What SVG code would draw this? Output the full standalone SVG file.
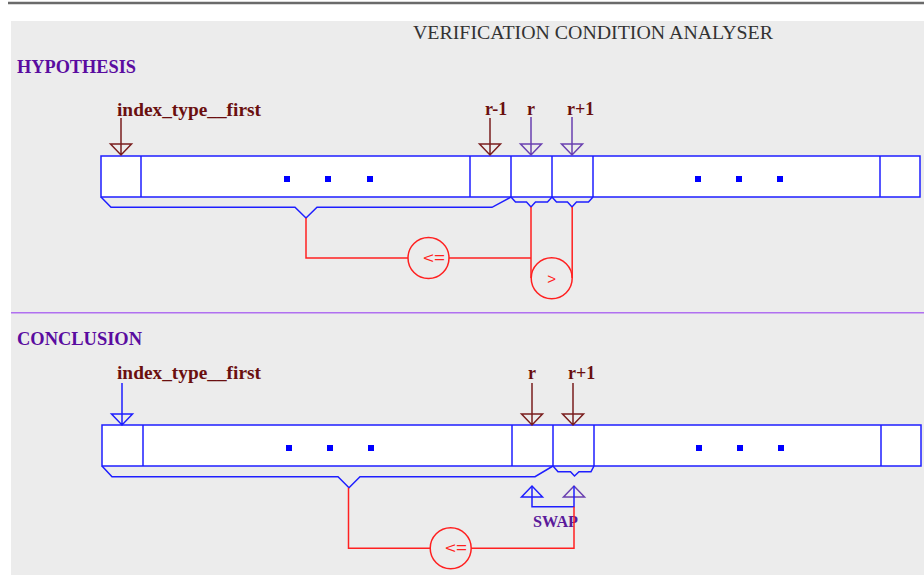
<svg xmlns="http://www.w3.org/2000/svg" width="924" height="583" viewBox="0 0 924 583">
<style>
.lbl{font-family:"Liberation Serif","Times New Roman",serif;font-weight:bold}
.head{fill:#5a0ca0;font-size:19px}
.idx{fill:#6a0f0f;font-size:18px}
.cell{fill:#fff;stroke:#1e1eff;stroke-width:1.5}
.div{stroke:#1e1eff;stroke-width:1.5}
.dot{fill:#0000ff}
.br{fill:none;stroke:#1e1eff;stroke-width:1.5}
.red{fill:none;stroke:#ff2020;stroke-width:1.5}
.op{font-family:"Liberation Sans",Arial,sans-serif;font-size:15px;fill:#ff2020;text-anchor:middle}
.ar-dr{stroke:#7a1e1e;stroke-width:1.5;fill:none}
.ar-pu{stroke:#6a40b0;stroke-width:1.5;fill:none}
.ar-bl{stroke:#1e1eff;stroke-width:1.5;fill:none}
</style>
<rect x="0" y="0" width="924" height="583" fill="#ffffff"/>
<line x1="8" y1="3" x2="924" y2="3" stroke="#6a6a6a" stroke-width="2.5"/>
<rect x="11" y="21" width="913" height="554" fill="#ececec"/>
<line x1="11" y1="312.7" x2="924" y2="312.7" stroke="#b070f0" stroke-width="1.6"/>
<text x="593" y="39" font-family="Liberation Serif,'Times New Roman',serif" font-size="19" fill="#333" text-anchor="middle" textLength="360" lengthAdjust="spacingAndGlyphs">VERIFICATION CONDITION ANALYSER</text>
<text class="lbl head" x="17" y="73" textLength="119" lengthAdjust="spacingAndGlyphs">HYPOTHESIS</text>
<text class="lbl head" x="17" y="345" textLength="125" lengthAdjust="spacingAndGlyphs">CONCLUSION</text>

<g id="hyp-array">
<rect class="cell" x="101" y="156" width="819" height="41"/>
<line class="div" x1="141" y1="156" x2="141" y2="197"/>
<line class="div" x1="470" y1="156" x2="470" y2="197"/>
<line class="div" x1="511" y1="156" x2="511" y2="197"/>
<line class="div" x1="552" y1="156" x2="552" y2="197"/>
<line class="div" x1="593" y1="156" x2="593" y2="197"/>
<line class="div" x1="880" y1="156" x2="880" y2="197"/>
<rect class="dot" x="284" y="176" width="6" height="6"/>
<rect class="dot" x="325" y="176" width="6" height="6"/>
<rect class="dot" x="367" y="176" width="6" height="6"/>
<rect class="dot" x="695" y="176" width="6" height="6"/>
<rect class="dot" x="736" y="176" width="6" height="6"/>
<rect class="dot" x="777" y="176" width="6" height="6"/>
</g>

<g id="hyp-first">
<text class="lbl idx" x="117" y="116" textLength="144" lengthAdjust="spacingAndGlyphs">index_type__first</text>
<path class="ar-dr" d="M121,118 V155 M110.5,144 H131.5 L121,155 Z"/>
</g>
<g id="hyp-rm1">
<text class="lbl idx" x="485" y="115">r-1</text>
<path class="ar-dr" d="M490,118 V155 M479.5,144 H500.5 L490,155 Z"/>
</g>
<g id="hyp-r">
<text class="lbl idx" x="527" y="115">r</text>
<path class="ar-pu" d="M531,117 V155 M520.5,144 H541.5 L531,155 Z"/>
</g>
<g id="hyp-rp1">
<text class="lbl idx" x="567" y="115">r+1</text>
<path class="ar-pu" d="M572,117 V155 M561.5,144 H582.5 L572,155 Z"/>
</g>

<g id="hyp-le">
<circle class="red" cx="428.5" cy="258" r="20.5"/>
<text class="op" x="434" y="263" textLength="22" lengthAdjust="spacingAndGlyphs">&lt;=</text>
</g>
<g id="hyp-gt">
<circle class="red" cx="551.7" cy="278.3" r="20.5"/>
<text class="op" x="551.7" y="283.5">&gt;</text>
</g>

<g id="concl-array">
<rect class="cell" x="102" y="425" width="819" height="41"/>
<line class="div" x1="143" y1="425" x2="143" y2="466"/>
<line class="div" x1="512" y1="425" x2="512" y2="466"/>
<line class="div" x1="553" y1="425" x2="553" y2="466"/>
<line class="div" x1="594" y1="425" x2="594" y2="466"/>
<line class="div" x1="881" y1="425" x2="881" y2="466"/>
<rect class="dot" x="286" y="445" width="6" height="6"/>
<rect class="dot" x="327" y="445" width="6" height="6"/>
<rect class="dot" x="368" y="445" width="6" height="6"/>
<rect class="dot" x="696" y="445" width="6" height="6"/>
<rect class="dot" x="737" y="445" width="6" height="6"/>
<rect class="dot" x="778" y="445" width="6" height="6"/>
</g>

<g id="concl-first">
<text class="lbl idx" x="117" y="379" textLength="144" lengthAdjust="spacingAndGlyphs">index_type__first</text>
<path class="ar-bl" d="M122,383 V425 M111.5,414 H132.5 L122,425 Z"/>
</g>
<g id="concl-r">
<text class="lbl idx" x="528" y="379">r</text>
<path class="ar-dr" d="M532,383 V425 M521.5,414 H542.5 L532,425 Z"/>
</g>
<g id="concl-rp1">
<text class="lbl idx" x="568" y="379">r+1</text>
<path class="ar-dr" d="M573,383 V425 M562.5,414 H583.5 L573,425 Z"/>
</g>

<g id="swap">
<path class="ar-bl" d="M521.5,497 H542.5 L532,486 Z"/>
<path class="ar-pu" d="M563.5,497 H584.5 L574,486 Z"/>
<text class="lbl" x="533" y="527" font-size="16" fill="#5a1a9a" textLength="45" lengthAdjust="spacingAndGlyphs">SWAP</text>
</g>

<g id="concl-le">
<circle class="red" cx="450.7" cy="548.3" r="20.5"/>
<text class="op" x="456" y="553.3" textLength="22" lengthAdjust="spacingAndGlyphs">&lt;=</text>
</g>

<g id="connectors">
<path class="br" d="M101,197 L111,207.3 H295 L306,218 L317,207.3 H492 L511,197"/>
<path class="br" d="M511,197 L515.5,202 H526.5 L531,207 L535.5,202 H547.5 L552,197"/>
<path class="br" d="M552,197 L556.5,202 H567.5 L572,207 L576.5,202 H588.5 L593,197"/>
<path class="red" d="M306,218 V258 H408"/>
<path class="red" d="M449,258 H531"/>
<path class="red" d="M531,207 V278"/>
<path class="red" d="M572.2,207 V278"/>
<path class="br" d="M102,466 L112,476.7 H338 L349,487.7 L360,476.7 H535 L553,466"/>
<path class="br" d="M553,466 L558,471.7 H570.5 L574.5,476 L579,471.7 H591 L594,466"/>
<path class="br" d="M532,486 V506.7 H574 V486"/>
<path class="red" d="M574,506.7 V548.3 H471.2"/>
<path class="red" d="M430.2,548.3 H348.5 V487.7"/>
</g>
</svg>
